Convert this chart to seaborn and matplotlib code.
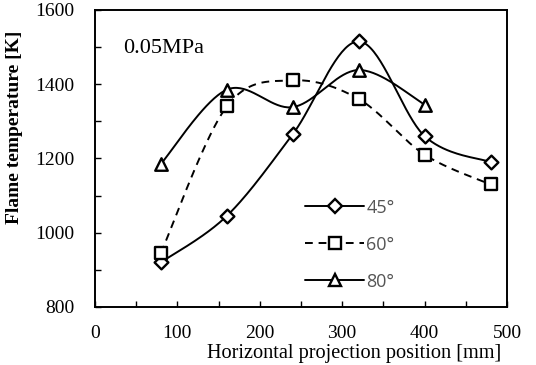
import numpy as np
import pandas as pd
import matplotlib
matplotlib.use("Agg")
import matplotlib.pyplot as plt
from matplotlib.lines import Line2D
from matplotlib.ticker import MultipleLocator
import seaborn as sns

# Measured flame temperature along the horizontal projection
positions_45 = [80, 160, 240, 320, 400, 480]
temps_45 = [920, 1045, 1265, 1515, 1260, 1190]
positions_60 = [80, 160, 240, 320, 400, 480]
temps_60 = [945, 1340, 1410, 1360, 1210, 1130]
positions_80 = [80, 160, 240, 320, 400]
temps_80 = [1185, 1385, 1338, 1438, 1345]

series_labels = ["45°", "60°", "80°"]
series_markers = ["D", "s", "^"]
series_dashes = [None, (4, 3), None]
marker_sizes = [7, 8, 9]


def smooth_curve(xs, ys, steps=40):
    """Cubic Bezier smoothing through every point (spreadsheet-style)."""
    p = np.column_stack([xs, ys]).astype(float)
    n = len(p)
    out = []
    for i in range(n - 1):
        p0 = p[i - 1] if i > 0 else p[i]
        p1, p2 = p[i], p[i + 1]
        p3 = p[i + 2] if i + 2 < n else p[i + 1]
        c1 = p1 + (p2 - p0) / 6.0
        c2 = p2 - (p3 - p1) / 6.0
        t = np.linspace(0, 1, steps)[:, None]
        seg = ((1 - t) ** 3) * p1 + 3 * ((1 - t) ** 2) * t * c1 + 3 * (1 - t) * t ** 2 * c2 + t ** 3 * p2
        out.append(seg if i == 0 else seg[1:])
    return np.vstack(out)


sns.set_theme(style="ticks")
plt.rcParams["font.family"] = ["Liberation Serif", "DejaVu Serif"]

fig = plt.figure(figsize=(5.36, 3.65), dpi=100)
ax = fig.add_axes([0.177, 0.159, 0.769, 0.814])

data = [(positions_45, temps_45), (positions_60, temps_60), (positions_80, temps_80)]
handles = []
for (xs, ys), lab, mk, dash, ms in zip(data, series_labels, series_markers, series_dashes, marker_sizes):
    curve = smooth_curve(xs, ys)
    cdf = pd.DataFrame({"x": curve[:, 0], "y": curve[:, 1]})
    ls = "-" if dash is None else (0, dash)
    sns.lineplot(data=cdf, x="x", y="y", color="black", linewidth=1.4, sort=False,
                 estimator=None, ax=ax, legend=False, linestyle=ls)
    pdf = pd.DataFrame({"x": xs, "y": ys})
    sns.scatterplot(data=pdf, x="x", y="y", marker=mk, s=ms ** 2, facecolor="white",
                    edgecolor="black", linewidth=1.7, ax=ax, legend=False, zorder=5)
    handles.append(Line2D([0], [0], color="black", linewidth=1.4, linestyle=ls,
                          marker=mk, markersize=ms, markerfacecolor="white",
                          markeredgecolor="black", markeredgewidth=1.7))

ax.set_xlim(0, 500)
ax.set_ylim(800, 1600)
ax.xaxis.set_major_locator(MultipleLocator(100))
ax.xaxis.set_minor_locator(MultipleLocator(50))
ax.yaxis.set_major_locator(MultipleLocator(200))
ax.yaxis.set_minor_locator(MultipleLocator(100))
ax.tick_params(axis="both", which="both", direction="in", length=4, width=1,
               color="black", top=False, right=False, labelsize=14, labelcolor="black")
ax.tick_params(axis="x", which="major", pad=13)
ax.tick_params(axis="y", which="major", pad=15)
for sp in ax.spines.values():
    sp.set_color("black")
    sp.set_linewidth(1.4)

ax.set_xlabel("Horizontal projection position [mm]", fontsize=14.6, color="black")
ax.xaxis.set_label_coords(0.629, -0.158)
ax.xaxis.label.set_verticalalignment("center")
ax.set_ylabel("Flame temperature [K]", fontsize=14, fontweight="bold", color="black")
ax.yaxis.set_label_coords(-0.195, 0.603)
ax.yaxis.label.set_verticalalignment("center")

ax.text(0.068, 0.87, "0.05MPa", transform=ax.transAxes, fontsize=16,
        color="black", va="center")

leg = ax.legend(handles, series_labels, loc="center left", bbox_to_anchor=(0.47, 0.21),
                frameon=False, handlelength=3.3, labelspacing=1.05, handletextpad=0.1,
                prop={"family": ["Open Sans", "DejaVu Sans"], "size": 13})
for t in leg.get_texts():
    t.set_color("#555555")

fig.savefig("out.png", dpi=100, facecolor="white")
